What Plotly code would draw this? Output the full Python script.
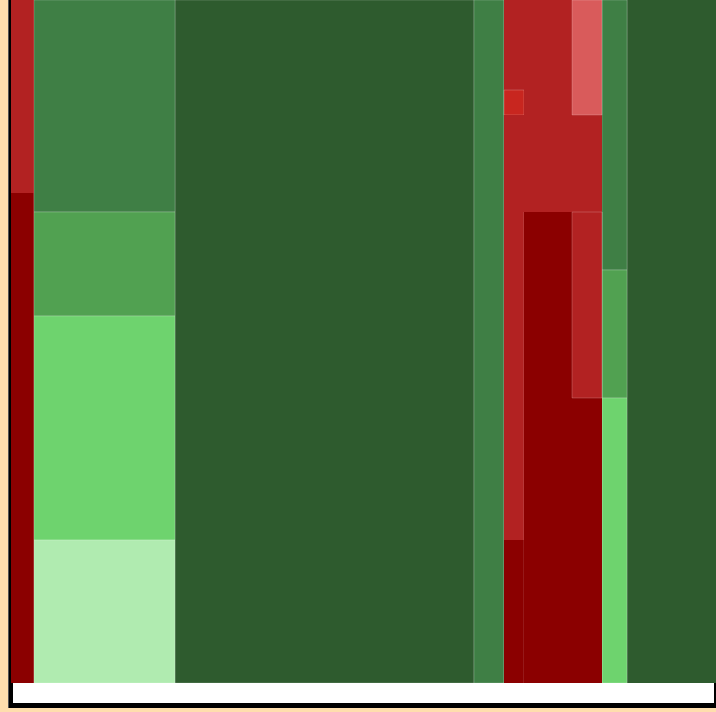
import plotly.graph_objects as go

# Treemap hierarchy (slice-dice packing); values are tile areas
ids = ["root",
       "c1", "c1a",
       "c2", "c2a", "c2b", "c2c", "c2d",
       "c3", "c4",
       "c5", "A", "A1", "q1", "q2", "q3", "A2", "B", "b1", "b2", "b2a", "C", "c_1", "c_2", "c_2a",
       "c6", "c6a", "c6b", "c6c"]
parents = ["",
           "root", "c1",
           "root", "c2", "c2", "c2", "c2",
           "root", "root",
           "root", "c5", "A", "A1", "A1", "A1", "A", "A2", "B", "B", "b2", "A2", "C", "C", "c_2",
           "root", "c6", "c6", "c6"]
values = [705 * 683,
          23 * 683, 23 * 193,
          141 * 683, 141 * 212, 141 * 104, 141 * 224, 141 * 143,
          299 * 683, 30 * 683,
          98 * 683, 98 * 683, 20 * 683, 20 * 90, 20 * 25, 20 * 425,
          78 * 683, 78 * 212, 48 * 212, 30 * 212, 30 * 115,
          78 * 471, 48 * 471, 30 * 471, 30 * 186,
          25 * 683, 25 * 270, 25 * 128, 25 * 285]

DKGREEN, GREEN, MIDGREEN, LTGREEN, PALEGREEN = "#2E5B2E", "#3F7F45", "#51A151", "#6ED36E", "#B0EBB0"
DKRED, FIRE, LTRED, RED = "#8B0000", "#B22222", "#D95B5B", "#C8261F"
colors = [DKGREEN,
          DKRED, FIRE,
          GREEN, GREEN, MIDGREEN, LTGREEN, PALEGREEN,
          DKGREEN, GREEN,
          DKRED, DKRED, DKRED, FIRE, RED, FIRE,
          DKRED, FIRE, FIRE, FIRE, LTRED,
          DKRED, DKRED, DKRED, FIRE,
          GREEN, GREEN, MIDGREEN, LTGREEN]
# tile outline widths (0 = no visible seam in the original)
outline = [0,
           0, 0,
           0.5, 0.5, 0.5, 0.5, 0.5,
           0.5, 0.5,
           0.5, 0, 0, 0, 0.5, 0,
           0, 0, 0, 0, 0.5,
           0.5, 0, 0, 0.5,
           0.5, 0.5, 0.5, 0.5]

W, H = 716, 712
ML, MB = 11, 29
PW, PH = W - ML, H - MB


def px(x):
    return (x - ML) / PW


def py(y):
    return (PH - y) / PH


fig = go.Figure(go.Treemap(
    ids=ids, labels=ids, parents=parents, values=values,
    branchvalues="total", sort=False,
    marker=dict(colors=colors, line=dict(width=outline, color="rgba(255,255,255,0.4)"),
                pad=dict(t=0, l=0, r=0, b=0)),
    tiling=dict(packing="slice-dice", pad=0),
    pathbar=dict(visible=False),
    textinfo="none",
    hoverinfo="none",
    root=dict(color=DKGREEN),
    domain=dict(x=[0, 1], y=[0, 1]),
))

fig.update_layout(
    width=W, height=H,
    margin=dict(l=ML, r=0, t=0, b=MB, pad=0),
    paper_bgcolor="#FFDEAD",
    showlegend=False,
    shapes=[
        dict(type="rect", xref="paper", yref="paper", layer="below",
             x0=px(8), x1=px(716), y0=py(708), y1=py(-5),
             fillcolor="#000000", line=dict(width=0)),
        dict(type="rect", xref="paper", yref="paper", layer="below",
             x0=px(8), x1=px(9), y0=py(708), y1=py(-5),
             fillcolor="#555555", line=dict(width=0)),
        dict(type="rect", xref="paper", yref="paper", layer="below",
             x0=px(13), x1=px(714), y0=py(703), y1=py(683),
             fillcolor="#FFFFFF", line=dict(width=0)),
    ],
)

fig.write_html("out.html", config={"displayModeBar": False},
               post_script="document.body.style.margin='0';document.body.style.overflow='hidden';")
